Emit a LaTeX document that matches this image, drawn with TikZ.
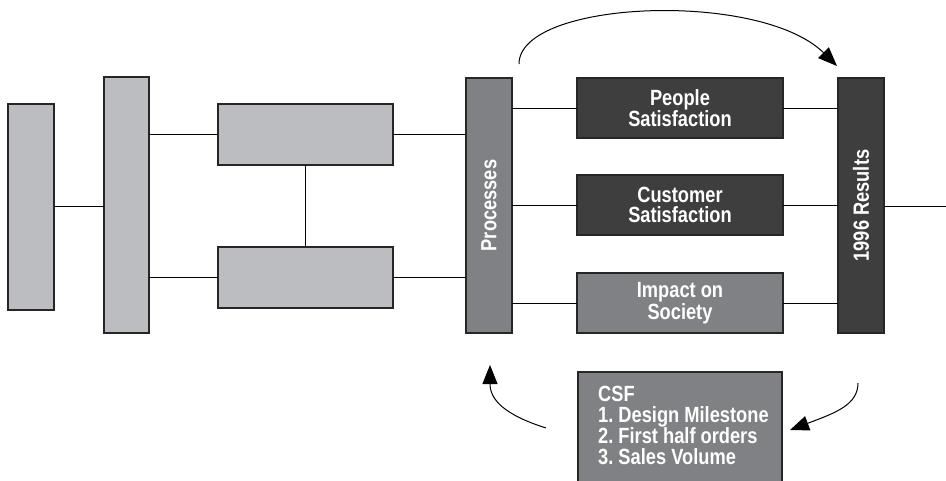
\documentclass[tikz,border=0pt]{standalone}
\usepackage{fontspec}
\setmainfont{Liberation Sans}[FakeStretch=0.83]
\usetikzlibrary{arrows.meta}
\definecolor{lgray}{HTML}{BCBDC0}
\definecolor{mgray}{HTML}{808184}
\definecolor{dgray}{HTML}{3E3E3F}
\frenchspacing
\begin{document}
\begin{tikzpicture}[x=1pt,y=-1pt,
  txt/.style={text=white,font=\bfseries\fontsize{22}{20}\selectfont},
  box/.style={draw=black!85,line width=1.1pt,inner sep=0pt,outer sep=0pt,txt,align=center},
  lbox/.style={box,fill=lgray},
  mbox/.style={box,fill=mgray},
  dbox/.style={box,fill=dgray},
  conn/.style={line width=0.8pt,black},
  loop/.style={line width=1pt,-{Triangle[length=19pt,width=15pt]}}]
\useasboundingbox (0,0) rectangle (946,481);
% left boxes
\node[lbox,minimum width=46pt,minimum height=206pt] (a) at (31,207) {};
\node[lbox,minimum width=45pt,minimum height=256pt] (b) at (126.5,205) {};
\node[lbox,minimum width=175pt,minimum height=61pt] (c) at (305.5,134.5) {};
\node[lbox,minimum width=175pt,minimum height=61pt] (d) at (305.5,277.5) {};
% processes and results
\node[mbox,minimum width=46pt,minimum height=255pt] (p) at (489,205.5) {};
\node[rotate=90,txt] (pt) at (p.center) {Processes};
\node[dbox,minimum width=46pt,minimum height=255pt] (r) at (861,205.5) {};
\node[rotate=90,txt] (rt) at (r.center) {1996 Results};
% middle boxes
\node[dbox,minimum width=206pt,minimum height=60pt] (ps) at (680,108) {People\\Satisfaction};
\node[dbox,minimum width=206pt,minimum height=60pt] (cs) at (680,205) {Customer\\Satisfaction};
\node[mbox,minimum width=206pt,minimum height=60pt] (is) at (680,303) {Impact on\\Society};
% CSF box
\node[mbox,minimum width=204pt,minimum height=120pt,anchor=north west] (csf) at (578,372) {};
\node[txt,anchor=north west,align=left,inner sep=0pt,font=\bfseries\fontsize{22}{21}\selectfont] (csft) at ([xshift=20pt,yshift=-14pt]csf.north west)
  {CSF\\1. Design Milestone\\2. First half orders\\3. Sales Volume};
% connectors
\draw[conn] (a.east |- 0,206) -- (b.west |- 0,206);
\draw[conn] (b.east |- c.west) -- (c.west);
\draw[conn] (b.east |- d.west) -- (d.west);
\draw[conn] (c.south) -- (d.north);
\draw[conn] (c.east) -- (p.west |- c.east);
\draw[conn] (d.east) -- (p.west |- d.east);
\draw[conn] (p.east |- ps.west) -- (ps.west);
\draw[conn] (p.east |- cs.west) -- (cs.west);
\draw[conn] (p.east |- is.west) -- (is.west);
\draw[conn] (ps.east) -- (r.west |- ps.east);
\draw[conn] (cs.east) -- (r.west |- cs.east);
\draw[conn] (is.east) -- (r.west |- is.east);
\coordinate (rend) at (946,206);
\draw[conn] (r.east |- rend) -- (rend);
% loop arrows
\coordinate (t1) at (519,64);
\coordinate (t2) at (837,66);
\draw[loop] (t1) .. controls (519,0) and (760,-10) .. (t2);
\coordinate (l1) at (546,428);
\coordinate (l2) at (490,365);
\draw[loop] (l1) .. controls (505,415) and (490,400) .. (l2);
\coordinate (q1) at (858,383);
\coordinate (q2) at (790,430);
\draw[loop] (q1) .. controls (858,405) and (835,413) .. (q2);
\end{tikzpicture}
\end{document}
